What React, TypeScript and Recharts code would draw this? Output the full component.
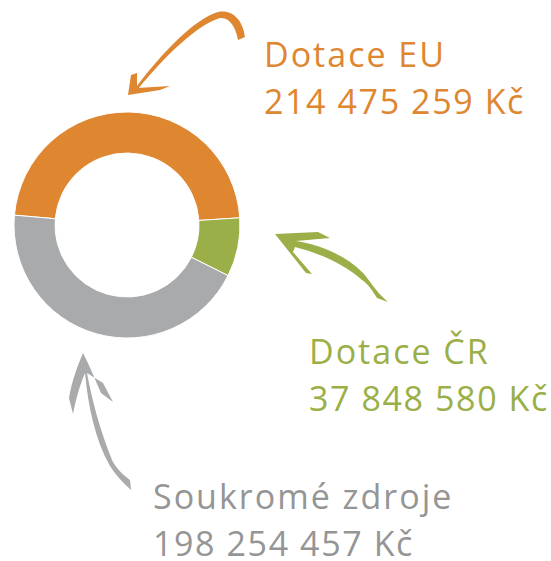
import { PieChart, Pie, Cell } from 'recharts';

// Zdroje financování (Kč)
const labels = ['Dotace EU', 'Dotace ČR', 'Soukromé zdroje'];
const amounts = [214475259, 37848580, 198254457];
const amountTexts = ['214 475 259 Kč', '37 848 580 Kč', '198 254 457 Kč'];

const COLORS = ['#DE8630', '#9AAF47', '#A9AAAC'];
const TEXT_COLORS = ['#DE8630', '#9AAF47', '#959595'];

const chartData = labels.map((name, i) => ({ name, value: amounts[i] }));

const FONT = '"Open Sans", "Noto Sans", sans-serif';

// label anchors (x, first baseline)
const LABEL_POS = [
  [264, 67],
  [309, 364],
  [153, 509],
];

function Arrows() {
  return (
    <g>
      {/* orange arrow */}
      <path
        d="M245,37 C243,20 232,9 218,12 C196,18 162,52 134,90 L138,89 C165,56 198,24 220,18 C230,17 236,28 238,40 Z"
        fill={COLORS[0]}
      />
      <path d="M128,95 L131,75 L137,73 L137,88 L170,86 L160,90 Z" fill={COLORS[0]} />
      {/* green arrow */}
      <path
        d="M275,234 L318,232 L330,238 L296,241 C320,245 345,255 362,272 C370,280 374,290 388,302 L377,298 C372,290 368,284 362,280 C345,265 322,254 295,247 L293,252 L312,274 L306,273 Z"
        fill={COLORS[1]}
      />
      {/* gray arrow */}
      <path
        d="M83,353 C78,365 72,380 69,398 L73,414 C76,398 80,385 85,373 C88,405 95,440 110,466 C115,474 122,482 131,490 L130,480 C122,474 116,468 112,460 C100,430 92,400 87,373 L103,383 L113,402 L101,393 C95,380 90,366 83,353 Z"
        fill={COLORS[2]}
      />
    </g>
  );
}

export default function App() {
  return (
    <div style={{ position: 'absolute', left: 0, top: 0, width: 551, height: 561, background: '#fff' }}>
      <PieChart width={551} height={561} margin={{ top: 0, right: 0, bottom: 0, left: 0 }}>
        <Pie
          data={chartData}
          dataKey="value"
          cx={127}
          cy={225}
          innerRadius={72}
          outerRadius={113}
          startAngle={175}
          endAngle={-185}
          stroke="#fff"
          strokeWidth={1}
          isAnimationActive={false}
        >
          {chartData.map((_, index) => (
            <Cell key={`cell-${index}`} fill={COLORS[index]} />
          ))}
        </Pie>
      </PieChart>
      <svg width={551} height={561} style={{ position: 'absolute', left: 0, top: 0 }}>
        <Arrows />
        {labels.map((name, i) => (
          <text
            key={name}
            x={LABEL_POS[i][0]}
            y={LABEL_POS[i][1]}
            fill={TEXT_COLORS[i]}
            style={{ fontFamily: FONT, fontSize: 34 }}
          >
            <tspan x={LABEL_POS[i][0]} letterSpacing={2}>
              {name}
            </tspan>
            <tspan x={LABEL_POS[i][0]} dy={47} letterSpacing={1.6}>
              {amountTexts[i]}
            </tspan>
          </text>
        ))}
      </svg>
    </div>
  );
}
